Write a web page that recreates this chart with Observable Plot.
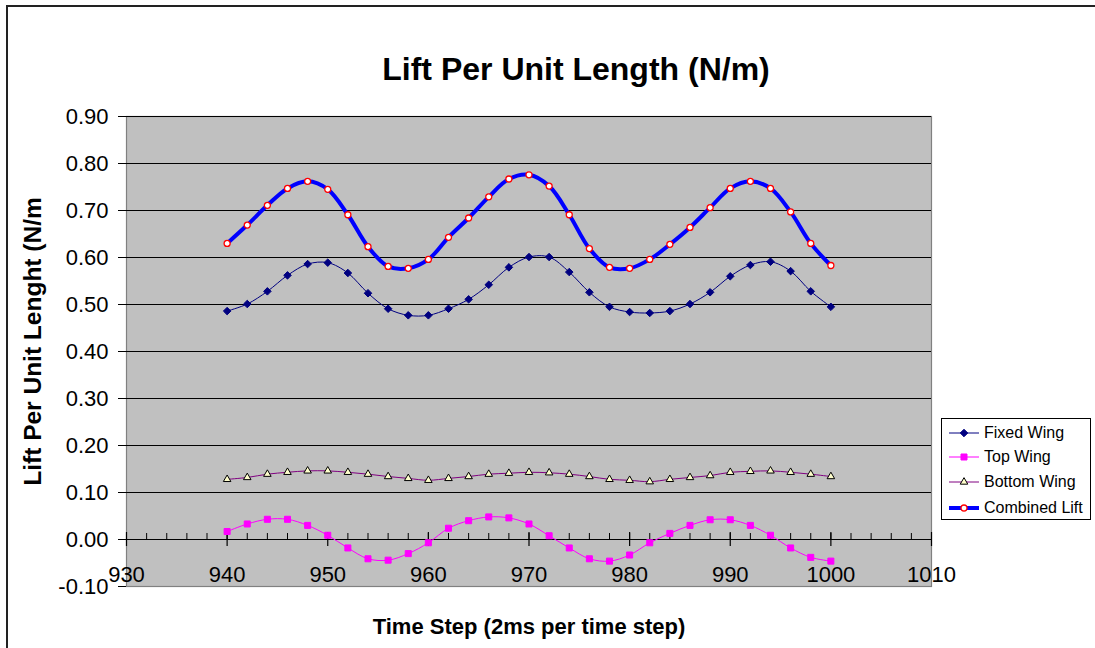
<!DOCTYPE html>
<html>
<head>
<meta charset="utf-8">
<script src="https://cdn.jsdelivr.net/npm/d3@7"></script>
<script src="https://cdn.jsdelivr.net/npm/@observablehq/plot@0.6"></script>
<style>
  html, body { margin: 0; padding: 0; background: #fff; overflow: hidden; }
  #wrap { position: relative; width: 1095px; height: 648px; overflow: hidden; font-family: Arial, "Liberation Sans", sans-serif; }
  #frame { position: absolute; left: 6px; top: 5px; width: 1110px; height: 700px; border: 2px solid #222; box-sizing: border-box; }
  #chart { position: absolute; left: 0; top: 0; }
  #legend { position: absolute; left: 941px; top: 418px; width: 150px; height: 102px; border: 1px solid #000; background: #fff; box-sizing: border-box; }
  .row { position: absolute; left: 0; height: 20px; display: flex; align-items: center; font-size: 16px; color: #000; white-space: nowrap; }
  .row svg { margin-left: 6px; margin-right: 4px; }
</style>
</head>
<body>
<div id="wrap">
  <div id="frame"></div>
  <div id="chart"></div>
  <div id="legend"></div>
</div>
<script>
// ---- data ----
const timeSteps = [940, 942, 944, 946, 948, 950, 952, 954, 956, 958, 960, 962, 964, 966, 968, 970, 972, 974, 976, 978, 980, 982, 984, 986, 988, 990, 992, 994, 996, 998, 1000];
const fixedWing = [0.486, 0.501, 0.528, 0.562, 0.586, 0.589, 0.567, 0.524, 0.491, 0.477, 0.477, 0.491, 0.511, 0.542, 0.579, 0.601, 0.601, 0.569, 0.526, 0.495, 0.484, 0.482, 0.486, 0.501, 0.526, 0.560, 0.584, 0.591, 0.571, 0.528, 0.495];
const topWing = [0.017, 0.033, 0.043, 0.043, 0.030, 0.009, -0.018, -0.041, -0.044, -0.030, -0.007, 0.024, 0.040, 0.048, 0.046, 0.033, 0.008, -0.018, -0.041, -0.046, -0.033, -0.007, 0.013, 0.030, 0.042, 0.042, 0.030, 0.009, -0.018, -0.038, -0.046];
const bottomWing = [0.128, 0.132, 0.139, 0.143, 0.146, 0.146, 0.143, 0.139, 0.134, 0.130, 0.126, 0.130, 0.134, 0.139, 0.141, 0.143, 0.142, 0.139, 0.134, 0.128, 0.126, 0.123, 0.128, 0.132, 0.136, 0.143, 0.145, 0.146, 0.143, 0.139, 0.134];
const combinedLift = [0.630, 0.669, 0.711, 0.747, 0.762, 0.745, 0.691, 0.623, 0.581, 0.577, 0.596, 0.643, 0.684, 0.729, 0.767, 0.776, 0.752, 0.691, 0.619, 0.579, 0.577, 0.596, 0.628, 0.664, 0.706, 0.747, 0.762, 0.747, 0.697, 0.630, 0.583];

const seriesNames = ["Fixed Wing", "Top Wing", "Bottom Wing", "Combined Lift"];
const xMajorTicks = [930, 940, 950, 960, 970, 980, 990, 1000, 1010];
const xMinorTicks = d3.range(930, 1011, 2);
const yTicks = [-0.10, 0.00, 0.10, 0.20, 0.30, 0.40, 0.50, 0.60, 0.70, 0.80, 0.90];
const yGrid = [0.10, 0.20, 0.30, 0.40, 0.50, 0.60, 0.70, 0.80, 0.90];

const titleText = "Lift Per Unit Length (N/m)";
const xTitle = "Time Step (2ms per time step)";
const yTitle = "Lift Per Unit Lenght (N/m";

// ---- styles ----
const styles = {
  "Fixed Wing":    {stroke: "#000080", width: 1, symbol: "diamond2", fill: "#000080", mstroke: "#000080", r: 3.4, sw: 1},
  "Top Wing":      {stroke: "#ff00ff", width: 1, symbol: "square",   fill: "#ff00ff", mstroke: "#ff00ff", r: 3.4, sw: 1},
  "Bottom Wing":   {stroke: "#800080", width: 1, symbol: "triangle", fill: "#ffffcc", mstroke: "#000000", r: 2.8, sw: 1},
  "Combined Lift": {stroke: "#0000ff", width: 4, symbol: "circle",   fill: "#ffffff", mstroke: "#ff0000", r: 3.0, sw: 1.3}
};
const values = {"Fixed Wing": fixedWing, "Top Wing": topWing, "Bottom Wing": bottomWing, "Combined Lift": combinedLift};

const seriesMarks = [];
for (const name of seriesNames) {
  const s = styles[name];
  const rows = timeSteps.map((t, i) => ({t, v: values[name][i]}));
  seriesMarks.push(Plot.line(rows, {x: "t", y: "v", stroke: s.stroke, strokeWidth: s.width, curve: "catmull-rom"}));
  seriesMarks.push(Plot.dot(rows, {x: "t", y: "v", symbol: () => s.symbol, r: s.r, fill: s.fill, stroke: s.mstroke, strokeWidth: s.sw}));
}

const chart = Plot.plot({
  width: 1095,
  height: 648,
  marginLeft: 126,
  marginRight: 164,
  marginTop: 116,
  marginBottom: 62,
  style: {fontFamily: "Arial, 'Liberation Sans', sans-serif", fontSize: "22px", color: "#000", background: "transparent", overflow: "visible"},
  x: {domain: [930, 1010], axis: null},
  y: {domain: [-0.1, 0.9], axis: null},
  symbol: {type: "identity"},
  marks: [
    Plot.frame({fill: "#c0c0c0", stroke: "#808080", strokeWidth: 1.2}),
    Plot.ruleY(yGrid, {y: d => d, stroke: "#000", strokeWidth: 1}),
    Plot.ruleY([0], {stroke: "#000", strokeWidth: 1.2}),
    Plot.ruleX(xMinorTicks, {x: d => d, y1: 0, y2: 0, insetTop: -6, stroke: "#000"}),
    Plot.ruleX(xMajorTicks, {x: d => d, y1: 0, y2: 0, insetTop: -7, insetBottom: -7, stroke: "#000", strokeWidth: 1.2}),
    Plot.axisY(yTicks, {tickFormat: d => d.toFixed(2), tickSize: 8, tickPadding: 10, fontSize: 22, label: null, stroke: "#000"}),
    Plot.text(xMajorTicks, {x: d => d, y: 0, dy: 35, text: d => String(d), fontSize: 22, fill: "#000"}),
    ...seriesMarks,
    Plot.text([titleText], {frameAnchor: "top", text: d => d, textAnchor: "middle", dx: 47, dy: -37, lineAnchor: "bottom", fontSize: 32, fontWeight: "bold", fill: "#000"}),
    Plot.text([xTitle], {frameAnchor: "bottom", text: d => d, textAnchor: "middle", dx: 0, dy: 47, lineAnchor: "bottom", fontSize: 22, fontWeight: "bold", fill: "#000"}),
    Plot.text([yTitle], {frameAnchor: "left", text: d => d, textAnchor: "middle", dx: -93, dy: -10, rotate: -90, fontSize: 24.5, fontWeight: "bold", fill: "#000"})
  ]
});
document.getElementById("chart").appendChild(chart);

// ---- legend ----
const legend = document.getElementById("legend");
const rowTops = [4, 28, 53, 79];
seriesNames.forEach((name, i) => {
  const s = styles[name];
  const row = document.createElement("div");
  row.className = "row";
  row.style.top = rowTops[i] + "px";
  const size = s.r * s.r * Math.PI;
  const symType = {diamond2: d3.symbolDiamond2, square: d3.symbolSquare, triangle: d3.symbolTriangle, circle: d3.symbolCircle}[s.symbol];
  const path = d3.symbol(symType, size)();
  row.innerHTML = `<svg width="32" height="20"><line x1="1" x2="31" y1="10" y2="10" stroke="${s.stroke}" stroke-width="${s.width}"/><path transform="translate(16,10)" d="${path}" fill="${s.fill}" stroke="${s.mstroke}" stroke-width="${s.sw}"/></svg><span>${name}</span>`;
  legend.appendChild(row);
});
</script>
</body>
</html>
